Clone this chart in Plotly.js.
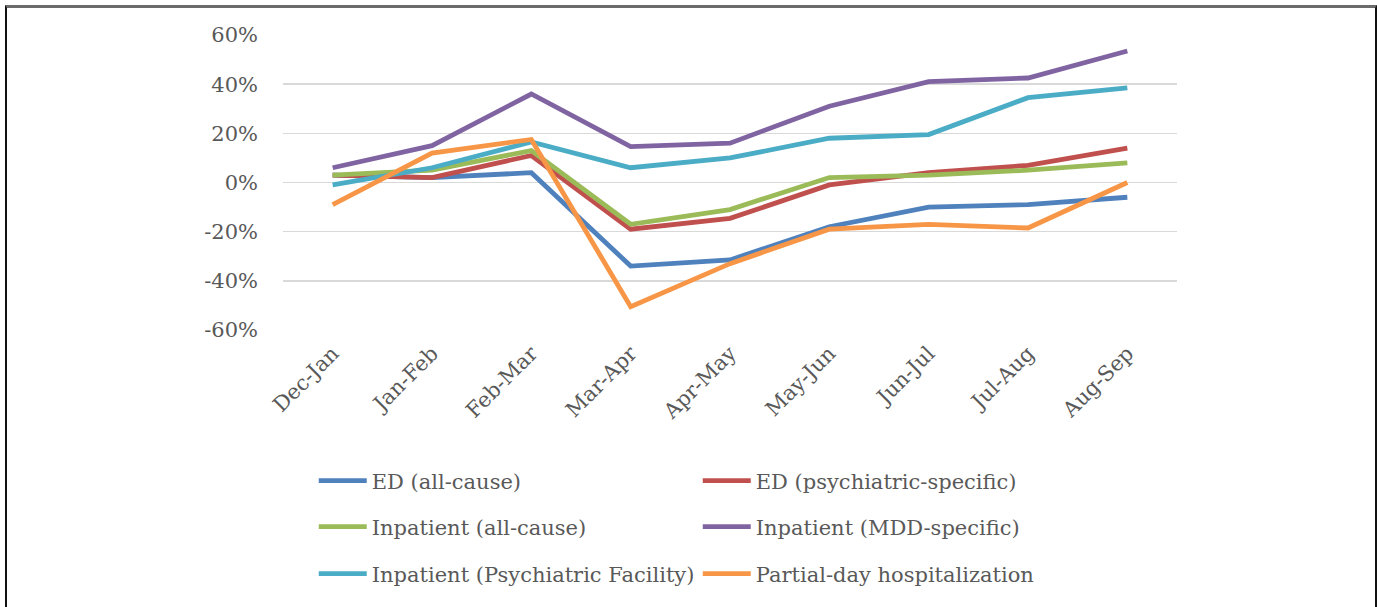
<!DOCTYPE html>
<html>
<head>
<meta charset="utf-8">
<script src="https://cdn.plot.ly/plotly-3.0.1.min.js"></script>
<style>
  html, body { margin: 0; padding: 0; background: #fff; }
  #chart { width: 1377px; height: 607px; position: absolute; left: 0; top: 0; }
  #frame { position: absolute; left: 5px; top: 5px; width: 1372px; height: 620px; box-sizing: border-box;
           border-top: 3px solid #6b6b6b; border-left: 2px solid #111; border-right: 2px solid #111; pointer-events: none; }
</style>
</head>
<body>
<div id="chart"></div>
<div id="frame"></div>
<script>
const categories = ["Dec-Jan", "Jan-Feb", "Feb-Mar", "Mar-Apr", "Apr-May", "May-Jun", "Jun-Jul", "Jul-Aug", "Aug-Sep"];

const edAllCause       = [3, 2, 4, -34, -31.5, -18, -10, -9, -6];
const edPsychiatric    = [3, 2, 11, -19, -14.6, -1, 4, 7, 14];
const inpatientAll     = [3, 5, 13, -17, -11, 2, 3, 5, 8];
const inpatientMDD     = [6, 15, 36, 14.6, 16, 31, 41, 42.5, 53.5];
const inpatientPsychFac= [-1, 6, 16.5, 6, 10, 18, 19.5, 34.5, 38.5];
const partialDay       = [-9, 12, 17.5, -50.5, -33, -19, -17, -18.5, 0];

const yTickValues = [-0.6, -0.4, -0.2, 0, 0.2, 0.4, 0.6];
const yTickLabels = ["-60%", "-40%", "-20%", "0%", "20%", "40%", "60%"];

const seriesNames = ["ED (all-cause)", "ED (psychiatric-specific)", "Inpatient (all-cause)",
                     "Inpatient (MDD-specific)", "Inpatient (Psychiatric Facility)", "Partial-day hospitalization"];
const seriesValues = [edAllCause, edPsychiatric, inpatientAll, inpatientMDD, inpatientPsychFac, partialDay];
const seriesColors = ["#4f81bd", "#c0504d", "#9bbb59", "#8064a2", "#4bacc6", "#f79646"];
const legendIds = ["legend", "legend", "legend2", "legend2", "legend3", "legend3"];

const FONT = "DejaVu Serif, Liberation Serif, serif";
const TXT = "#595959";

const traces = seriesNames.map((name, i) => ({
  type: "scatter",
  mode: "lines",
  name: name,
  x: categories,
  y: seriesValues[i].map(v => v / 100),
  line: { color: seriesColors[i], width: 4.8 },
  legend: legendIds[i],
  hoverinfo: "skip"
}));

function legendAt(y) {
  return {
    orientation: "h",
    x: 0.0344, xanchor: "left",
    y: y, yanchor: "middle",
    entrywidth: 321, entrywidthmode: "pixels",
    itemwidth: 48,
    font: { family: FONT, size: 21, color: TXT },
    bgcolor: "rgba(0,0,0,0)",
    itemclick: false, itemdoubleclick: false,
    traceorder: "normal"
  };
}

const layout = {
  width: 1377, height: 607,
  margin: { l: 283, r: 200, t: 35, b: 277 },
  paper_bgcolor: "#ffffff",
  plot_bgcolor: "#ffffff",
  showlegend: true,
  font: { family: FONT, size: 21, color: TXT },
  xaxis: {
    type: "category",
    tickangle: -45,
    showgrid: false,
    zeroline: false,
    showline: false,
    ticks: "",
    ticklabelstandoff: 6,
    tickfont: { family: FONT, size: 21, color: TXT },
    range: [-0.5, 8.5]
  },
  yaxis: {
    range: [-0.6, 0.6],
    tickvals: yTickValues,
    ticktext: yTickLabels,
    showgrid: true,
    gridcolor: "#d9d9d9",
    gridwidth: 1.5,
    zeroline: false,
    showline: false,
    ticks: "",
    ticklabelstandoff: 24,
    tickfont: { family: FONT, size: 21, color: TXT }
  },
  legend: legendAt(-0.512),
  legend2: legendAt(-0.668),
  legend3: legendAt(-0.827)
};

Plotly.newPlot("chart", traces, layout, { displayModeBar: false, staticPlot: true });
</script>
</body>
</html>
